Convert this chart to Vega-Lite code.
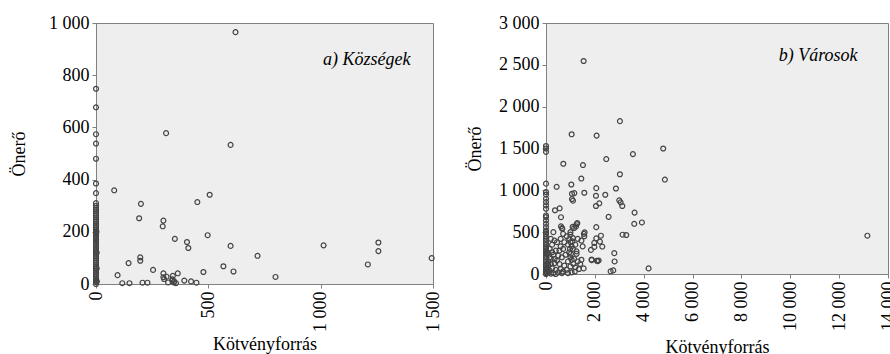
{
  "$schema": "https://vega.github.io/schema/vega-lite/v6.json",
  "padding": {"left": 10, "top": 13, "right": 0, "bottom": 0},
  "spacing": 23,
  "datasets": {
    "a": [
      {"x":621,"y":965},{"x":312,"y":578},{"x":599,"y":533},{"x":81,"y":359},{"x":506,"y":342},{"x":451,"y":314},{"x":200,"y":307},{"x":192,"y":252},{"x":300,"y":243},{"x":297,"y":221},{"x":497,"y":187},{"x":351,"y":173},{"x":405,"y":161},{"x":411,"y":138},{"x":599,"y":146},{"x":1013,"y":148},{"x":1257,"y":159},{"x":1257,"y":126},{"x":1494,"y":99},{"x":719,"y":108},{"x":1210,"y":75},{"x":197,"y":102},{"x":197,"y":89},{"x":145,"y":80},{"x":567,"y":68},{"x":254,"y":54},{"x":478,"y":46},{"x":612,"y":48},{"x":799,"y":27},{"x":96,"y":34},{"x":300,"y":41},{"x":300,"y":26},{"x":314,"y":28},{"x":342,"y":31},{"x":364,"y":41},{"x":303,"y":19},{"x":340,"y":13},{"x":346,"y":6},{"x":356,"y":3},{"x":393,"y":13},{"x":423,"y":10},{"x":447,"y":5},{"x":117,"y":3},{"x":149,"y":3},{"x":207,"y":5},{"x":229,"y":5},{"x":321,"y":6},{"x":340,"y":18},{"x":348,"y":10},
      {"x":0,"y":748},{"x":0,"y":677},{"x":0,"y":574},{"x":0,"y":538},{"x":0,"y":480},{"x":0,"y":385},{"x":0,"y":348},{"x":0,"y":310},{"x":0,"y":300},{"x":0,"y":292},{"x":0,"y":285},{"x":0,"y":278},{"x":0,"y":270},{"x":0,"y":262},{"x":0,"y":255},{"x":0,"y":248},{"x":0,"y":240},{"x":0,"y":232},{"x":0,"y":225},{"x":0,"y":218},{"x":0,"y":210},{"x":0,"y":202},{"x":0,"y":195},{"x":0,"y":188},{"x":0,"y":180},{"x":0,"y":172},{"x":0,"y":165},{"x":0,"y":158},{"x":0,"y":150},{"x":0,"y":142},{"x":0,"y":135},{"x":0,"y":128},{"x":0,"y":120},{"x":0,"y":112},{"x":0,"y":105},{"x":0,"y":98},{"x":0,"y":90},{"x":0,"y":82},{"x":0,"y":75},{"x":0,"y":68},{"x":0,"y":60},{"x":0,"y":52},{"x":0,"y":45},{"x":0,"y":38},{"x":0,"y":30},{"x":0,"y":22},{"x":0,"y":15},{"x":0,"y":8},{"x":0,"y":0},{"x":3,"y":120},{"x":3,"y":60},{"x":2,"y":200},{"x":4,"y":10}
    ],
    "b": [
      {"x":1540,"y":2546},{"x":3026,"y":1827},{"x":1050,"y":1670},{"x":2072,"y":1654},{"x":4798,"y":1500},{"x":3558,"y":1433},{"x":2467,"y":1374},{"x":709,"y":1318},{"x":1513,"y":1302},{"x":1445,"y":1141},{"x":3026,"y":1192},{"x":4867,"y":1129},{"x":436,"y":1042},{"x":1036,"y":1070},{"x":2058,"y":1026},{"x":2863,"y":1022},{"x":1063,"y":959},{"x":1159,"y":967},{"x":1568,"y":971},{"x":2045,"y":935},{"x":2426,"y":947},{"x":1063,"y":896},{"x":1104,"y":876},{"x":2181,"y":845},{"x":2045,"y":813},{"x":2999,"y":880},{"x":3054,"y":857},{"x":3122,"y":813},{"x":559,"y":785},{"x":368,"y":762},{"x":3626,"y":734},{"x":2563,"y":683},{"x":613,"y":679},{"x":3612,"y":600},{"x":3926,"y":616},{"x":668,"y":541},{"x":1281,"y":608},{"x":1090,"y":564},{"x":2058,"y":560},{"x":1581,"y":497},{"x":3135,"y":470},{"x":3285,"y":466},{"x":2249,"y":458},{"x":2058,"y":426},{"x":2208,"y":387},{"x":2304,"y":328},{"x":1840,"y":288},{"x":2795,"y":249},{"x":2808,"y":150},{"x":1868,"y":174},{"x":2085,"y":158},{"x":2154,"y":162},{"x":2645,"y":32},{"x":2754,"y":43},{"x":4199,"y":67},{"x":1540,"y":67},{"x":13155,"y":458},
      {"x":614,"y":569},{"x":655,"y":549},{"x":1255,"y":597},{"x":1228,"y":569},{"x":996,"y":471},{"x":1569,"y":451},{"x":1977,"y":372},{"x":1977,"y":324},{"x":1869,"y":166},{"x":2114,"y":154},
      {"x":200,"y":420},{"x":350,"y":400},{"x":450,"y":380},{"x":250,"y":350},{"x":600,"y":330},{"x":150,"y":300},{"x":400,"y":280},{"x":700,"y":300},{"x":900,"y":350},{"x":1000,"y":380},{"x":1050,"y":330},{"x":1100,"y":300},{"x":1200,"y":350},{"x":1300,"y":420},{"x":1450,"y":400},{"x":1500,"y":330},{"x":950,"y":260},{"x":1000,"y":200},{"x":1050,"y":170},{"x":900,"y":150},{"x":800,"y":230},{"x":650,"y":200},{"x":500,"y":220},{"x":300,"y":230},{"x":200,"y":180},{"x":100,"y":150},{"x":350,"y":130},{"x":550,"y":120},{"x":750,"y":100},{"x":1000,"y":90},{"x":1200,"y":80},{"x":1350,"y":60},{"x":1450,"y":170},{"x":1250,"y":240},{"x":1150,"y":180},{"x":600,"y":60},{"x":400,"y":50},{"x":250,"y":70},{"x":150,"y":40},{"x":300,"y":10},{"x":500,"y":20},{"x":700,"y":30},{"x":850,"y":50},{"x":1050,"y":20},{"x":100,"y":100},{"x":200,"y":120},{"x":450,"y":160},{"x":550,"y":280},{"x":850,"y":450},{"x":950,"y":420},{"x":1100,"y":430},{"x":1250,"y":270},{"x":1400,"y":120},{"x":1550,"y":480},{"x":700,"y":480},{"x":120,"y":20},{"x":50,"y":60},{"x":80,"y":250},{"x":300,"y":500},{"x":600,"y":420},{"x":1000,"y":500},{"x":1150,"y":550},{"x":980,"y":300},{"x":1020,"y":240},{"x":1080,"y":390},{"x":1120,"y":120},{"x":900,"y":10},{"x":400,"y":0},{"x":200,"y":5},{"x":650,"y":10},{"x":250,"y":260},{"x":150,"y":200},{"x":350,"y":180},{"x":750,"y":380},{"x":1300,"y":150},{"x":1180,"y":30},
      {"x":0,"y":1530},{"x":0,"y":1500},{"x":0,"y":1460},{"x":0,"y":1080},{"x":0,"y":980},{"x":0,"y":950},{"x":0,"y":900},{"x":0,"y":860},{"x":0,"y":820},{"x":0,"y":780},{"x":0,"y":700},{"x":0,"y":680},{"x":0,"y":640},{"x":0,"y":600},{"x":0,"y":560},{"x":0,"y":520},{"x":0,"y":500},{"x":0,"y":480},{"x":0,"y":450},{"x":0,"y":420},{"x":0,"y":400},{"x":0,"y":380},{"x":0,"y":350},{"x":0,"y":320},{"x":0,"y":300},{"x":0,"y":280},{"x":0,"y":250},{"x":0,"y":220},{"x":0,"y":200},{"x":0,"y":180},{"x":0,"y":150},{"x":0,"y":120},{"x":0,"y":100},{"x":0,"y":80},{"x":0,"y":50},{"x":0,"y":30},{"x":0,"y":10},{"x":0,"y":0},{"x":30,"y":60},{"x":40,"y":20},{"x":60,"y":120},{"x":20,"y":250}
    ]
  },
  "hconcat": [
    {
      "width": 337,
      "height": 261,
      "layer": [
        {
          "data": {"name": "a"},
          "mark": {"type": "point", "shape": "circle", "filled": false, "size": 24, "stroke": "#444444", "strokeWidth": 1.2, "opacity": 1},
          "encoding": {
            "x": {"field": "x", "type": "quantitative", "scale": {"domain": [0, 1500], "nice": false}, "axis": {"title": "Kötvényforrás", "values": [0, 500, 1000, 1500], "format": ",d", "labelAngle": -90, "titlePadding": 4}},
            "y": {"field": "y", "type": "quantitative", "scale": {"domain": [0, 1000], "nice": false}, "axis": {"title": "Önerő", "values": [0, 200, 400, 600, 800, 1000], "format": ",d", "titlePadding": 20}}
          }
        },
        {
          "data": {"values": [{"x": 1400, "y": 860, "label": "a) Községek"}]},
          "mark": {"type": "text", "align": "right", "baseline": "middle", "font": "Liberation Serif, Times New Roman, serif", "fontSize": 18, "fontStyle": "italic", "color": "#000000"},
          "encoding": {
            "x": {"field": "x", "type": "quantitative"},
            "y": {"field": "y", "type": "quantitative"},
            "text": {"field": "label"}
          }
        }
      ]
    },
    {
      "width": 342,
      "height": 251,
      "layer": [
        {
          "data": {"name": "b"},
          "mark": {"type": "point", "shape": "circle", "filled": false, "size": 24, "stroke": "#444444", "strokeWidth": 1.2, "opacity": 1},
          "encoding": {
            "x": {"field": "x", "type": "quantitative", "scale": {"domain": [0, 14000], "nice": false}, "axis": {"title": "Kötvényforrás", "values": [0, 2000, 4000, 6000, 8000, 10000, 12000, 14000], "format": ",d", "labelAngle": -90, "titlePadding": 8}},
            "y": {"field": "y", "type": "quantitative", "scale": {"domain": [0, 3000], "nice": false}, "axis": {"title": "Önerő", "values": [0, 500, 1000, 1500, 2000, 2500, 3000], "format": ",d", "titlePadding": 14}}
          }
        },
        {
          "data": {"values": [{"x": 12750, "y": 2600, "label": "b) Városok"}]},
          "mark": {"type": "text", "align": "right", "baseline": "middle", "font": "Liberation Serif, Times New Roman, serif", "fontSize": 18, "fontStyle": "italic", "color": "#000000"},
          "encoding": {
            "x": {"field": "x", "type": "quantitative"},
            "y": {"field": "y", "type": "quantitative"},
            "text": {"field": "label"}
          }
        }
      ]
    }
  ],
  "config": {
    "font": "Liberation Serif, Times New Roman, serif",
    "view": {"fill": "#eeeeee", "stroke": "#808080", "strokeWidth": 1},
    "axis": {"grid": false, "labelFont": "Liberation Serif, Times New Roman, serif", "labelFontSize": 18, "titleFont": "Liberation Serif, Times New Roman, serif", "titleFontSize": 18, "titleFontWeight": "normal", "labelColor": "#000000", "titleColor": "#000000", "domainColor": "#808080", "tickColor": "#808080", "tickSize": 4, "labelPadding": 3, "labelOverlap": false, "labelFlush": false},
    "locale": {"number": {"decimal": ",", "thousands": " ", "grouping": [3], "currency": ["", ""]}}
  }
}
